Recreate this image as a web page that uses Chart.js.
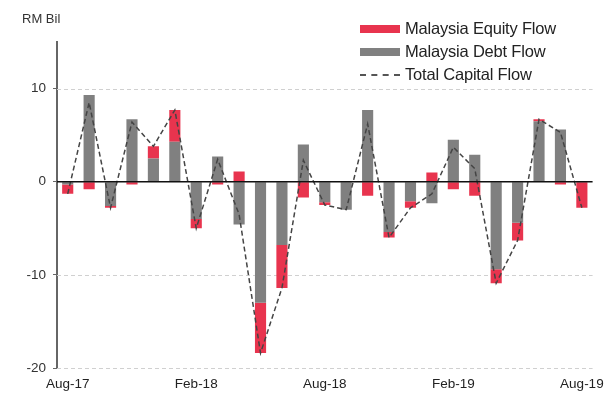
<!doctype html>
<html lang="en">
<head>
<meta charset="utf-8">
<title>Malaysia capital flows</title>
<script src="https://cdn.jsdelivr.net/npm/chart.js@4.4.1/dist/chart.umd.min.js"></script>
<style>
  body { margin: 0; background: #fff; font-family: "Liberation Sans", Arial, sans-serif; }
  #wrap { position: relative; width: 612px; height: 403px; }
  #unit { position: absolute; left: 22px; top: 11px; font-size: 13px; color: #333; }
  #legend { position: absolute; left: 360px; top: 17px; font-size: 16.5px; color: #222; letter-spacing: -0.2px; }
  #legend div { height: 23px; display: flex; align-items: center; }
  #legend span.sw { display: inline-block; width: 40px; height: 8px; margin-right: 5px; }
  #legend span.dash { display: inline-block; width: 40px; height: 0; border-top: 2px dashed #555; margin-right: 5px; }
</style>
<script>
// monthly flows, RM billion
const months = ['Aug-17','Sep-17','Oct-17','Nov-17','Dec-17','Jan-18','Feb-18','Mar-18','Apr-18','May-18','Jun-18','Jul-18',
                'Aug-18','Sep-18','Oct-18','Nov-18','Dec-18','Jan-19','Feb-19','Mar-19','Apr-19','May-19','Jun-19','Jul-19','Aug-19'];
const tickLabels = ['Aug-17','Feb-18','Aug-18','Feb-19','Aug-19'];

const equityFlow = [-1.0, -0.8, -0.2, -0.3, 1.3, 3.4, -1.0, -0.3, 1.1, -5.4, -4.6, -1.7,
                    -0.3, 0.0, -1.5, -0.6, -0.7, 1.0, -0.8, -1.5, -1.5, -1.9, 0.2, -0.3, -2.8];
const debtFlow   = [-0.3, 9.3, -2.6, 6.7, 2.5, 4.3, -4.0, 2.7, -4.6, -13.0, -6.8, 4.0,
                    -2.2, -3.0, 7.7, -5.4, -2.1, -2.3, 4.5, 2.9, -9.4, -4.4, 6.5, 5.6, 0.0];
const totalFlow  = [-1.3, 8.5, -2.8, 6.4, 3.8, 7.7, -5.0, 2.4, -3.5, -18.4, -11.4, 2.3,
                    -2.5, -3.0, 6.2, -6.0, -2.8, -1.3, 3.7, 1.4, -10.9, -6.3, 6.7, 5.3, -2.8];

// dashed grid + solid zero line
const gridLines = {
  id: 'gridLines',
  beforeDatasetsDraw(chart) {
    const { ctx, chartArea, scales: { y } } = chart;
    ctx.save();
    ctx.strokeStyle = '#d0d0d0';
    ctx.lineWidth = 1;
    ctx.setLineDash([4, 3]);
    y.ticks.forEach(t => {
      if (t.value === 0) return;
      const py = Math.round(y.getPixelForValue(t.value)) + 0.5;
      ctx.beginPath();
      ctx.moveTo(chartArea.left, py);
      ctx.lineTo(chartArea.right, py);
      ctx.stroke();
    });
    ctx.restore();
  },
  afterDatasetsDraw(chart) {
    const { ctx, chartArea, scales: { y } } = chart;
    const py = y.getPixelForValue(0);
    ctx.save();
    ctx.strokeStyle = '#111';
    ctx.lineWidth = 1.5;
    ctx.beginPath();
    ctx.moveTo(chartArea.left, py);
    ctx.lineTo(chartArea.right, py);
    ctx.stroke();
    ctx.restore();
  }
};

const init = () => {
  Chart.defaults.font.family = '"Liberation Sans", Arial, sans-serif';
  Chart.defaults.font.size = 13;

  new Chart(document.getElementById('myChart'), {
    type: 'bar',
    data: {
      labels: months,
      datasets: [
        {
          type: 'line',
          label: 'Total Capital Flow',
          data: totalFlow,
          stack: 'total',
          borderColor: '#444',
          borderWidth: 1.5,
          borderDash: [5, 3],
          pointRadius: 0,
          tension: 0,
          order: 0
        },
        {
          label: 'Malaysia Debt Flow',
          data: debtFlow,
          stack: 'flows',
          backgroundColor: '#808080',
          categoryPercentage: 1,
          barPercentage: 0.52,
          order: 1
        },
        {
          label: 'Malaysia Equity Flow',
          data: equityFlow,
          stack: 'flows',
          backgroundColor: '#e8344e',
          categoryPercentage: 1,
          barPercentage: 0.52,
          order: 1
        }
      ]
    },
    options: {
      responsive: true,
      maintainAspectRatio: false,
      animation: false,
      layout: { padding: { left: 0, right: 18, top: 42, bottom: 0 } },
      plugins: { legend: { display: false }, tooltip: { enabled: false } },
      scales: {
        x: {
          stacked: true,
          grid: { display: false, drawTicks: false },
          border: { display: false },
          ticks: {
            autoSkip: false,
            maxRotation: 0,
            padding: 8,
            color: '#222',
            font: { size: 13.5 },
            callback: (v, i) => tickLabels.includes(months[i]) ? months[i] : ''
          },
          afterFit: s => { s.height = 35; }
        },
        y: {
          stacked: true,
          min: -20,
          max: 15,
          ticks: { stepSize: 10, color: '#333', padding: 7, font: { size: 13.5 } },
          afterBuildTicks: s => { s.ticks = s.ticks.filter(t => t.value % 10 === 0); },
          grid: { drawOnChartArea: false, drawTicks: true, tickLength: 4, tickColor: '#666' },
          border: { color: '#666', width: 2 },
          afterFit: s => { s.width = 57; }
        }
      }
    },
    plugins: [gridLines]
  });
};

window.onload = init;
</script>
</head>
<body>
  <div id="wrap">
    <canvas id="myChart"></canvas>
    <div id="unit">RM Bil</div>
    <div id="legend">
      <div><span class="sw" style="background:#e8344e"></span>Malaysia Equity Flow</div>
      <div><span class="sw" style="background:#808080"></span>Malaysia Debt Flow</div>
      <div><span class="dash"></span>Total Capital Flow</div>
    </div>
  </div>
</body>
</html>
